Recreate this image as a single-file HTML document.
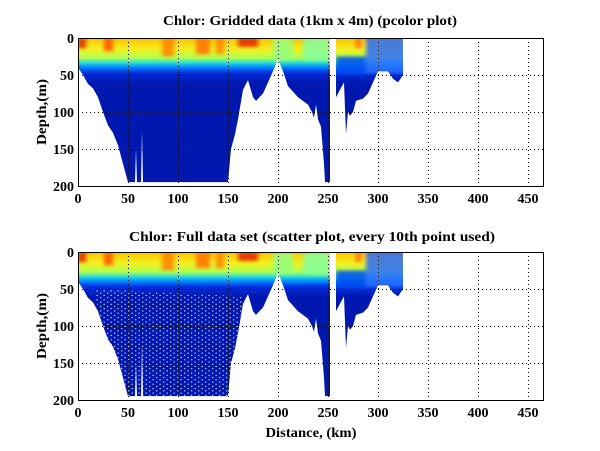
<!DOCTYPE html>
<html><head><style>body{margin:0;background:#fff}svg{display:block}</style></head><body>
<svg width="600" height="451" viewBox="0 0 600 451" xmlns="http://www.w3.org/2000/svg" font-family="Liberation Serif, serif" font-weight="bold" font-size="14">
<defs>
<filter id="bl" x="-20%" y="-20%" width="140%" height="140%"><feGaussianBlur stdDeviation="2"/></filter>
<clipPath id="cp"><path d="M0,0 L0,40 5,50 10,62 15,68 20,80 25,100 30,118 35,128 40,145 45,170 50,195 57,195 58,150 59,195 63,195 64,125 65,195 70,195 150,195 153,150 157,130 160,110 165,70 170,57 175,80 178,85 185,75 195,45 200,28 205,45 210,65 220,80 230,90 234,100 236,108 238,90 240,110 243,120 246,170 247,195 252,195 252,0 Z M258,0 L258,80 262,70 266,60 268,130 270,100 272,105 275,100 278,85 285,82 290,75 295,60 300,45 310,45 315,55 320,60 325,50 325,0 Z"/></clipPath>
<linearGradient id="g" gradientUnits="userSpaceOnUse" x1="0" y1="0" x2="0" y2="60">
<stop offset="0" stop-color="#ffc000"/><stop offset="0.25" stop-color="#f4f020"/><stop offset="0.45" stop-color="#b0ff50"/><stop offset="0.55" stop-color="#30e0d0"/><stop offset="0.65" stop-color="#0090ff"/><stop offset="0.78" stop-color="#0030e0"/><stop offset="1" stop-color="#0018b0"/>
</linearGradient>
<pattern id="dots" width="7" height="6" patternUnits="userSpaceOnUse"><rect x="1" y="1" width="1.3" height="1.3" fill="#fff"/><rect x="4.5" y="4" width="1.3" height="1.3" fill="#fff"/></pattern>
<g id="data">
<g clip-path="url(#cp)">
<rect x="0" y="0" width="330" height="200" fill="url(#g)"/>
<g filter="url(#bl)" opacity="0.85">
<rect x="0" y="0" width="8" height="14" fill="#e02000"/>
<rect x="26" y="0" width="9" height="18" fill="#ff5000"/>
<rect x="160" y="0" width="20" height="12" fill="#e02000"/>
<rect x="84" y="0" width="12" height="25" fill="#ff8000"/>
<rect x="118" y="0" width="14" height="22" fill="#ff7000"/>
<rect x="138" y="0" width="8" height="22" fill="#ff8000"/>
<rect x="278" y="0" width="5" height="14" fill="#ff6000"/>
<rect x="225" y="0" width="27" height="30" fill="#80ffa0"/>
<rect x="195" y="0" width="20" height="30" fill="#90ff80"/>
<rect x="288" y="-5" width="40" height="53" fill="#2a6cff"/>
<rect x="258" y="25" width="30" height="25" fill="#0050f0"/>
</g>
</g>
</g>
</defs>
<rect width="600" height="451" fill="#fff"/>
<text x="310" y="25" text-anchor="middle" textLength="294" lengthAdjust="spacingAndGlyphs">Chlor: Gridded data (1km x 4m) (pcolor plot)</text>
<g transform="translate(78,38) scale(1,0.74)"><use href="#data"/></g>
<text x="312" y="241" text-anchor="middle" textLength="366" lengthAdjust="spacingAndGlyphs">Chlor: Full data set (scatter plot, every 10th point used)</text>
<g transform="translate(78,252) scale(1,0.74)"><use href="#data"/>
<path fill="url(#dots)" d="M15,50 L25,100 45,170 50,195 150,195 160,110 165,60 Z"/></g>
<g stroke="#000" stroke-width="1" fill="none">
<g stroke-dasharray="1,3">
<path d="M128.5,38V186M178.5,38V186M228.5,38V186M278.5,38V186M328.5,38V186M378.5,38V186M428.5,38V186M478.5,38V186M528.5,38V186M78,75.5H543M78,112.5H543M78,149.5H543"/>
<path d="M128.5,252V400M178.5,252V400M228.5,252V400M278.5,252V400M328.5,252V400M378.5,252V400M428.5,252V400M478.5,252V400M528.5,252V400M78,289.5H543M78,326.5H543M78,363.5H543"/>
</g>
<rect x="78.5" y="38.5" width="465" height="148"/>
<rect x="78.5" y="252.5" width="465" height="148"/>
</g>
<g text-anchor="middle">
<text x="78" y="203">0</text><text x="128" y="203">50</text><text x="178" y="203">100</text><text x="228" y="203">150</text><text x="278" y="203">200</text><text x="328" y="203">250</text><text x="378" y="203">300</text><text x="428" y="203">350</text><text x="478" y="203">400</text><text x="528" y="203">450</text>
<text x="78" y="417">0</text><text x="128" y="417">50</text><text x="178" y="417">100</text><text x="228" y="417">150</text><text x="278" y="417">200</text><text x="328" y="417">250</text><text x="378" y="417">300</text><text x="428" y="417">350</text><text x="478" y="417">400</text><text x="528" y="417">450</text>
</g>
<g text-anchor="end">
<text x="74" y="43">0</text><text x="74" y="80">50</text><text x="74" y="117">100</text><text x="74" y="154">150</text><text x="74" y="191">200</text>
<text x="74" y="257">0</text><text x="74" y="294">50</text><text x="74" y="331">100</text><text x="74" y="368">150</text><text x="74" y="405">200</text>
</g>
<text transform="translate(46,112) rotate(-90)" text-anchor="middle" textLength="66" lengthAdjust="spacingAndGlyphs">Depth,(m)</text>
<text transform="translate(46,326) rotate(-90)" text-anchor="middle" textLength="66" lengthAdjust="spacingAndGlyphs">Depth,(m)</text>
<text x="311" y="437" text-anchor="middle" textLength="91" lengthAdjust="spacingAndGlyphs">Distance, (km)</text>
</svg>
</body></html>
